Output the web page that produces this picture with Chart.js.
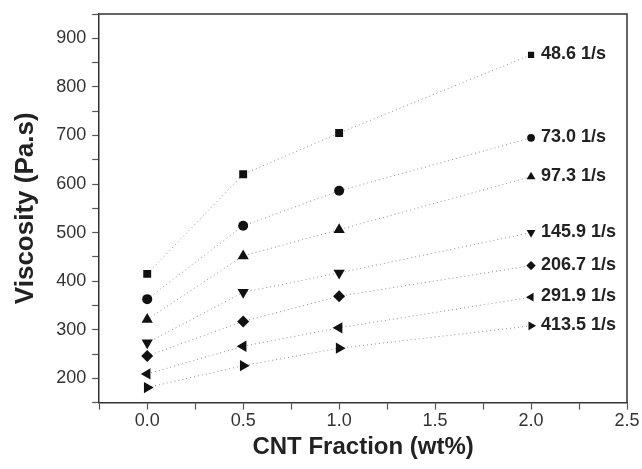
<!DOCTYPE html>
<html lang="en">
<head>
    <meta charset="UTF-8">
    <title>Viscosity vs CNT Fraction</title>
    <style>
        html, body { margin: 0; padding: 0; background: #fff; }
        #chart-container { width: 642px; height: 469px; }
    </style>
</head>
<body>
    <div id="chart-container">
        <canvas id="visc-chart"></canvas>
    </div>

    <script src="https://cdn.jsdelivr.net/npm/chart.js"></script>
    <script>
        // CNT fraction (wt%)
        const fractions = [0.0, 0.5, 1.0, 2.0];
        // shear rate labels
        const shearRates = ["48.6 1/s", "73.0 1/s", "97.3 1/s", "145.9 1/s", "206.7 1/s", "291.9 1/s", "413.5 1/s"];
        // viscosity (Pa.s), one array per shear rate
        const visc486 = [415, 620, 705, 866];
        const visc730 = [363, 514, 586, 695];
        const visc973 = [321, 452, 506, 615];
        const visc1459 = [273, 377, 417, 500];
        const visc2067 = [246, 317, 369, 432];
        const visc2919 = [209, 266, 304, 367];
        const visc4135 = [181, 226, 262, 308];
        const xTicks = [0.0, 0.5, 1.0, 1.5, 2.0, 2.5];
        const yTicks = [200, 300, 400, 500, 600, 700, 800, 900];

        const seriesValues = [visc486, visc730, visc973, visc1459, visc2067, visc2919, visc4135];
        const markers = [
            { style: "rect", rot: 0, r: 5.6 },
            { style: "circle", rot: 0, r: 5 },
            { style: "triangle", rot: 0, r: 6.5 },
            { style: "triangle", rot: 180, r: 6.5 },
            { style: "rectRot", rot: 0, r: 6 },
            { style: "triangle", rot: -90, r: 6.5 },
            { style: "triangle", rot: 90, r: 6.5 }
        ];

        const datasets = seriesValues.map((vals, i) => ({
            label: shearRates[i],
            data: vals.map((v, j) => ({ x: fractions[j], y: v })),
            showLine: true,
            borderColor: "#8f8f8f",
            borderWidth: 1,
            borderDash: [1, 3],
            pointStyle: markers[i].style,
            rotation: markers[i].rot,
            // the point beside the label is drawn a little smaller
            pointRadius: vals.map((v, j) => j === vals.length - 1 ? markers[i].r * 0.78 : markers[i].r),
            pointBackgroundColor: "#111",
            pointBorderColor: "#111",
            pointBorderWidth: 0
        }));

        // write each shear rate next to its last point
        const endLabels = {
            id: "endLabels",
            afterDatasetsDraw(chart) {
                const ctx = chart.ctx;
                ctx.save();
                ctx.font = "bold 18px 'Liberation Sans', Arial, sans-serif";
                ctx.fillStyle = "#222";
                ctx.textBaseline = "middle";
                chart.data.datasets.forEach((ds, i) => {
                    const pts = chart.getDatasetMeta(i).data;
                    const last = pts[pts.length - 1];
                    ctx.fillText(ds.label, last.x + 10, last.y - 1);
                });
                ctx.restore();
            }
        };

        // top and right frame lines
        const frame = {
            id: "frame",
            afterDraw(chart) {
                const a = chart.chartArea;
                const ctx = chart.ctx;
                ctx.save();
                ctx.strokeStyle = "#333";
                ctx.lineWidth = 1.5;
                ctx.beginPath();
                ctx.moveTo(a.left, a.top);
                ctx.lineTo(a.right, a.top);
                ctx.lineTo(a.right, a.bottom);
                ctx.stroke();
                ctx.restore();
            }
        };

        const tickFont = { family: "'Liberation Sans', Arial, sans-serif", size: 18 };
        // small line height so the top label does not push the plot down
        const yTickFont = { family: "'Liberation Sans', Arial, sans-serif", size: 18, lineHeight: 0.6 };

        new Chart(document.getElementById("visc-chart"), {
            type: "scatter",
            data: { datasets },
            plugins: [endLabels, frame],
            options: {
                responsive: true,
                maintainAspectRatio: false,
                animation: false,
                layout: { padding: { top: 14, right: 15, left: 10, bottom: 7 } },
                plugins: { legend: { display: false }, tooltip: { enabled: false } },
                scales: {
                    x: {
                        min: -0.25,
                        max: 2.5,
                        ticks: {
                            stepSize: 0.25,
                            color: "#333",
                            font: tickFont,
                            padding: 1,
                            maxRotation: 0,
                            autoSkip: false,
                            callback: (v) => xTicks.some(t => Math.abs(t - v) < 1e-6) ? v.toFixed(1) : ""
                        },
                        grid: { drawOnChartArea: false, tickLength: 7, color: "#555", tickWidth: 1.2 },
                        border: { color: "#333", width: 1.5 },
                        title: {
                            display: true, text: "CNT Fraction (wt%)", color: "#222",
                            font: { family: "'Liberation Sans', Arial, sans-serif", size: 24, weight: "bold" },
                            padding: { top: 0, bottom: 0 }
                        }
                    },
                    y: {
                        min: 150,
                        max: 950,
                        ticks: {
                            stepSize: 50,
                            color: "#333",
                            font: yTickFont,
                            padding: 6,
                            autoSkip: false,
                            callback: (v) => yTicks.includes(v) ? String(v) : ""
                        },
                        grid: { drawOnChartArea: false, tickLength: 7, color: "#555", tickWidth: 1.2 },
                        border: { color: "#333", width: 1.5 },
                        title: {
                            display: true, text: "Viscosity (Pa.s)", color: "#222",
                            font: { family: "'Liberation Sans', Arial, sans-serif", size: 26, weight: "bold" },
                            padding: { top: 0, bottom: 9 }
                        }
                    }
                }
            }
        });
    </script>
</body>
</html>
